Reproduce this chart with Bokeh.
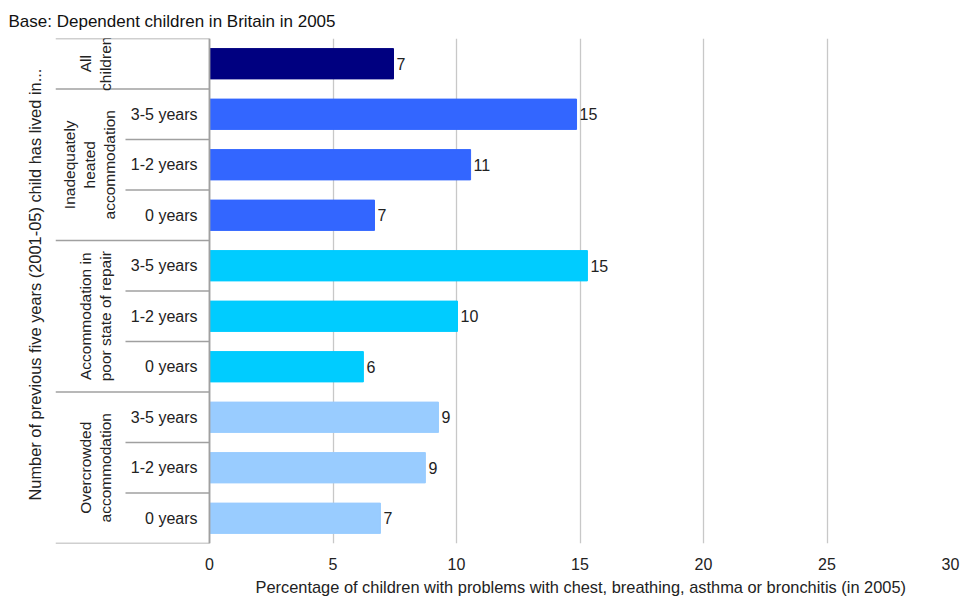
import math
from bokeh.plotting import figure
from bokeh.models import Range1d, FixedTicker, ColumnDataSource, Title
from bokeh.core.properties import value
from bokeh.embed import file_html
from bokeh.resources import INLINE

# ---- data ----
groups = ["All\nchildren", "Inadequately\nheated\naccommodation",
          "Accommodation in\npoor state of repair", "Overcrowded\naccommodation"]
group_sizes = [1, 3, 3, 3]
group_colors = ["#000080", "#3366FF", "#00CCFF", "#99CCFF"]
row_labels = ["", "3-5 years", "1-2 years", "0 years",
              "3-5 years", "1-2 years", "0 years",
              "3-5 years", "1-2 years", "0 years"]
values = [7.45, 14.86, 10.57, 6.68, 15.3, 10.04, 6.23, 9.27, 8.74, 6.92]
x_ticks = [0, 5, 10, 15, 20, 25, 30]

title = "Base: Dependent children in Britain in 2005"
x_title = "Percentage of children with problems with chest, breathing, asthma or bronchitis (in 2005)"
y_title = "Number of previous five years (2001-05) child has lived in..."

FONT = "Liberation Sans"

# ---- derived ----
rows = list(range(len(values)))
colors = []
group_start = []
pos = 0
for g, n in enumerate(group_sizes):
    group_start.append(pos)
    colors += [group_colors[g]] * n
    pos += n
labels = [str(int(round(v))) for v in values]

px_per_unit = 24.7
frame_left_units = -154 / px_per_unit  # table area left of zero

p = figure(width=960, height=603, output_backend="svg", toolbar_location=None,
           x_range=Range1d(frame_left_units, 30), y_range=Range1d(9.5, -0.5),
           min_border_left=55, min_border_right=10, min_border_top=38,
           min_border_bottom=60)
p.outline_line_color = None
p.background_fill_color = "white"

# title
p.title.text = title
p.title.text_font = FONT
p.title.text_font_size = "17px"
p.title.text_font_style = "normal"
p.title.text_color = "#111111"
p.title.offset = -47
p.title.standoff = 15

# x axis
p.xaxis.ticker = FixedTicker(ticks=x_ticks)
p.xaxis.axis_line_color = None
p.xaxis.major_tick_line_color = None
p.xaxis.minor_tick_line_color = None
p.xaxis.major_tick_out = 0
p.xaxis.major_label_standoff = 14
p.xaxis.major_label_text_font = FONT
p.xaxis.major_label_text_font_size = "16px"
p.xaxis.major_label_text_color = "#222222"
p.xaxis.axis_label = None
p.xgrid.ticker = FixedTicker(ticks=x_ticks)
p.xgrid.grid_line_color = "#c8c8c8"
p.xgrid.grid_line_width = 1.3
p.ygrid.grid_line_color = None

# y axis hidden (title drawn as a side title)
p.yaxis.visible = False

# bars
src = ColumnDataSource(dict(y=rows, v=values, c=colors, lab=labels, rl=row_labels))
p.hbar(y="y", left=0, right="v", height=0.6, fill_color="c", line_color="c",
       source=src)
p.text(x="v", y="y", text="lab", source=src, x_offset=3,
       text_align="left", text_baseline="middle", text_font=value(FONT),
       text_font_size="16px", text_color="#222222")

# row labels
p.text(x=-12 / px_per_unit, y="y", text="rl", source=src, text_align="right",
       text_baseline="middle", text_font=value(FONT), text_font_size="16px",
       text_color="#222222")

# table lines
n = len(values)
bounds = [s - 0.5 for s in group_start] + [n - 0.5]
p.segment(x0=[frame_left_units] * len(bounds), x1=[0] * len(bounds),
          y0=bounds, y1=bounds, line_color="#a0a0a0", line_width=1.5)
inner = [r + 0.5 for g, s in enumerate(group_start)
         for r in range(s, s + group_sizes[g] - 1)]
p.segment(x0=[-84 / px_per_unit] * len(inner), x1=[0] * len(inner),
          y0=inner, y1=inner, line_color="#a0a0a0", line_width=1.5)
p.segment(x0=[0], x1=[0], y0=[-0.5], y1=[n - 0.5], line_color="#a0a0a0",
          line_width=1.8)

# group labels (3-line labels sit a little further left)
gy = [s + (group_sizes[g] - 1) / 2 for g, s in enumerate(group_start)]
gx = [(-114 - 6 * (lbl.count("\n") - 1)) / px_per_unit for lbl in groups]
p.text(x=gx, y=gy, text=groups,
       angle=math.pi / 2, text_align="center", text_baseline="middle",
       text_font=value(FONT), text_font_size="15.5px", text_color="#222222",
       text_line_height=1.2)

# x title
p.add_layout(Title(text=x_title, align="left", offset=200, standoff=6,
                   text_font=FONT, text_font_size="16.4px",
                   text_font_style="normal", text_color="#222222"), "below")

# y title
p.add_layout(Title(text=y_title, align="left", offset=43, standoff=24,
                   text_font=FONT, text_font_size="16.4px",
                   text_font_style="normal", text_color="#222222"), "left")

open("out.html", "w").write(file_html(p, INLINE))
